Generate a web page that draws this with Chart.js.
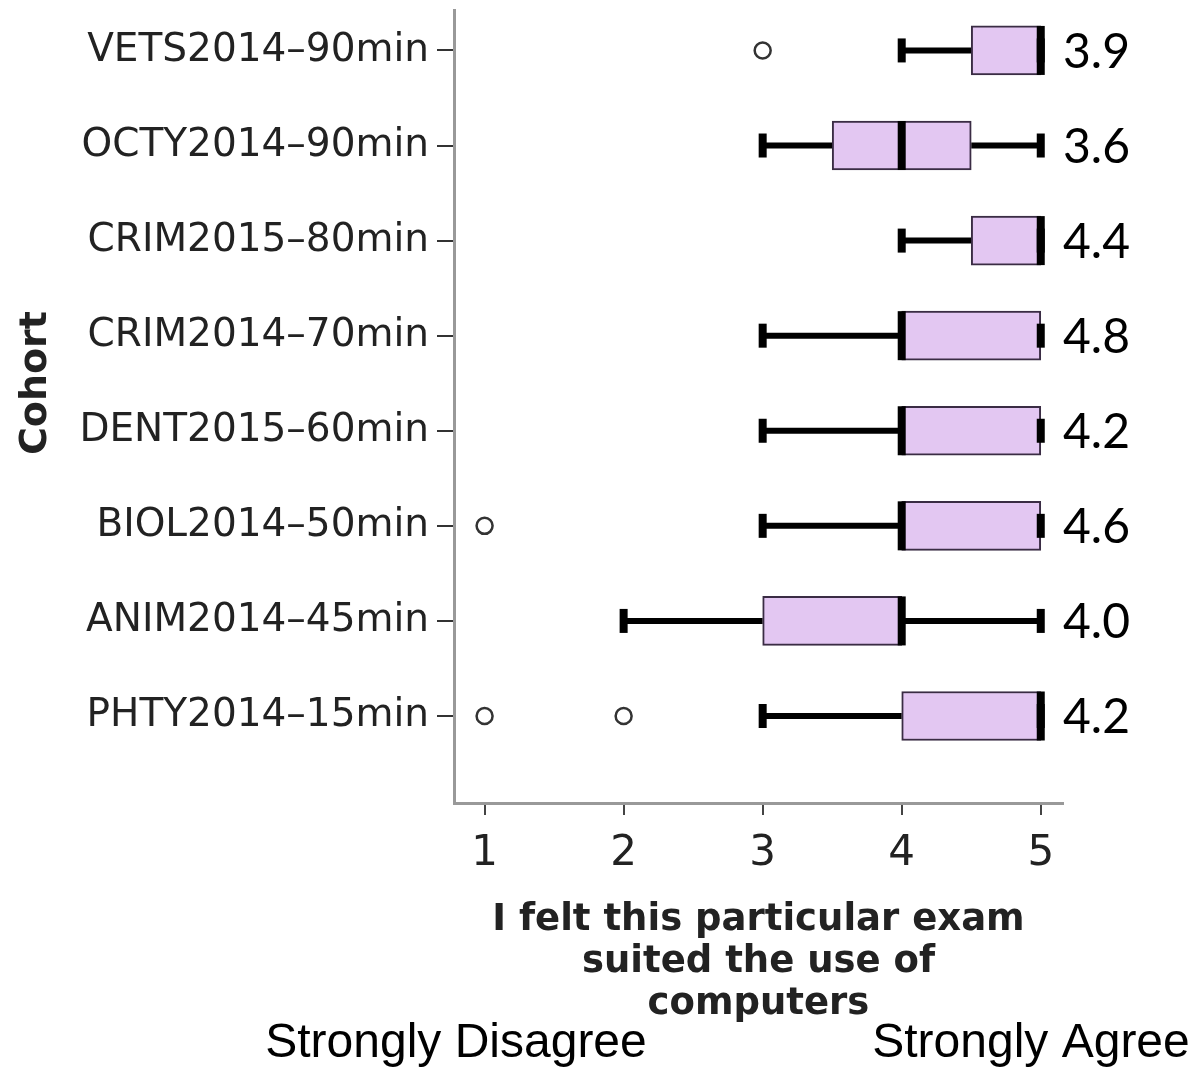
<!DOCTYPE html>
<html>
<head>
<meta charset="utf-8">
<script src="https://cdn.jsdelivr.net/npm/chart.js@4.4.1/dist/chart.umd.min.js"></script>
<style>
  html, body { margin: 0; padding: 0; background: #fff; }
  canvas { display: block; }
</style>
</head>
<body>
<canvas id="cohortChart" width="1203" height="1069"></canvas>
<script>
// Cohorts, top to bottom
const cohorts = ['VETS2014–90min', 'OCTY2014–90min', 'CRIM2015–80min', 'CRIM2014–70min',
                 'DENT2015–60min', 'BIOL2014–50min', 'ANIM2014–45min', 'PHTY2014–15min'];

// Five-number summaries per cohort
const whiskerLow  = [4,   3,   4,   3, 3, 3, 2, 3];
const q1          = [4.5, 3.5, 4.5, 4, 4, 4, 3, 4];
const median      = [5,   4,   5,   4, 4, 4, 4, 5];
const q3          = [5,   4.5, 5,   5, 5, 5, 4, 5];
const whiskerHigh = [5,   5,   5,   5, 5, 5, 5, 5];

// Outliers (cohort index, value)
const outlierCohort = [0, 5, 7, 7];
const outlierValue  = [3, 1, 1, 2];

// Mean score shown at the right of each row
const means = [3.9, 3.6, 4.4, 4.8, 4.2, 4.6, 4.0, 4.2];

const xTicks = [1, 2, 3, 4, 5];

const BOX_H = 49;

const boxExtras = {
    id: 'boxExtras',
    beforeDatasetsDraw(chart) {
        const { ctx, scales: { x, y } } = chart;
        ctx.save();
        ctx.strokeStyle = '#000';
        ctx.lineWidth = 6;
        cohorts.forEach((_, i) => {
            const py = y.getPixelForValue(i);
            ctx.beginPath();
            ctx.moveTo(x.getPixelForValue(whiskerLow[i]), py);
            ctx.lineTo(x.getPixelForValue(q1[i]), py);
            ctx.moveTo(x.getPixelForValue(q3[i]), py);
            ctx.lineTo(x.getPixelForValue(whiskerHigh[i]), py);
            ctx.stroke();
        });
        ctx.restore();
    },
    afterDatasetsDraw(chart) {
        const { ctx, chartArea, scales: { x, y } } = chart;
        ctx.save();
        ctx.fillStyle = '#000';
        cohorts.forEach((_, i) => {
            const py = y.getPixelForValue(i);
            // whisker caps
            [whiskerLow[i], whiskerHigh[i]].forEach(v => {
                const px = x.getPixelForValue(v);
                ctx.fillRect(px - 4, py - 12, 8, 24);
            });
            // median
            const pm = x.getPixelForValue(median[i]);
            ctx.fillRect(pm - 4, py - BOX_H / 2, 8, BOX_H);
        });

        // mean labels
        ctx.font = '48px Lato, "Open Sans", sans-serif';
        ctx.textAlign = 'left';
        ctx.textBaseline = 'middle';
        means.forEach((m, i) => {
            ctx.fillText(m.toFixed(1), chartArea.right, y.getPixelForValue(i) + 2);
        });

        // scale anchors under the x axis
        ctx.font = '48px "Liberation Sans", Arial, sans-serif';
        ctx.textAlign = 'center';
        ctx.fillText('Strongly Disagree', 456, 1044);
        ctx.fillText('Strongly Agree', 1031, 1044);

        // y axis title
        ctx.fillStyle = '#222';
        ctx.font = 'bold 38px "DejaVu Sans", sans-serif';
        ctx.translate(36, 383);
        ctx.rotate(-Math.PI / 2);
        ctx.fillText('Cohort', 0, 0);
        ctx.restore();
    }
};

new Chart(document.getElementById('cohortChart'), {
    type: 'bar',
    data: {
        datasets: [{
            type: 'bar',
            indexAxis: 'y',
            data: cohorts.map((_, i) => ({ x: [q1[i], q3[i]], y: i })),
            backgroundColor: '#E3C7F2',
            borderColor: '#3a2c44',
            borderWidth: 2,
            borderSkipped: false,
            barThickness: BOX_H,
            order: 2
        }, {
            type: 'scatter',
            data: outlierValue.map((v, k) => ({ x: v, y: outlierCohort[k] })),
            pointRadius: 8,
            pointBorderWidth: 2.5,
            backgroundColor: '#fff',
            borderColor: '#333',
            order: 1
        }]
    },
    options: {
        responsive: false,
        animation: false,
        layout: { padding: { top: 10, right: 140, left: 0, bottom: 0 } },
        plugins: {
            legend: { display: false },
            tooltip: { enabled: false }
        },
        scales: {
            x: {
                type: 'linear',
                offset: false,
                min: 0.78,
                max: 5.16,
                afterBuildTicks: s => { s.ticks = xTicks.map(v => ({ value: v })); },
                afterFit: s => { s.height = 266; s.paddingLeft = 0; s.paddingRight = 0; },
                ticks: {
                    font: { family: '"DejaVu Sans", sans-serif', size: 42 },
                    color: '#222',
                    padding: 14,
                    maxRotation: 0
                },
                grid: { offset: false, drawOnChartArea: false, drawTicks: true, tickLength: 12, color: '#444', lineWidth: 2 },
                border: { color: '#999', width: 3 },
                title: {
                    display: true,
                    text: ['I felt this particular exam', 'suited the use of', 'computers'],
                    font: { family: '"DejaVu Sans", sans-serif', size: 37, weight: 'bold', lineHeight: 1.135 },
                    color: '#222',
                    padding: { top: 0, bottom: 44 }
                }
            },
            y: {
                type: 'linear',
                offset: false,
                reverse: true,
                min: -0.42,
                max: 7.915,
                afterBuildTicks: s => { s.ticks = cohorts.map((_, i) => ({ value: i })); },
                afterFit: s => { s.width = 454; s.paddingTop = 0; s.paddingBottom = 0; },
                ticks: {
                    autoSkip: false,
                    callback: v => cohorts[v],
                    font: { family: '"DejaVu Sans", sans-serif', size: 39 },
                    color: '#222',
                    padding: 8
                },
                grid: { offset: false, drawOnChartArea: false, drawTicks: true, tickLength: 17, color: '#333', lineWidth: 2 },
                border: { color: '#999', width: 3 }
            }
        }
    },
    plugins: [boxExtras]
});
</script>
</body>
</html>
